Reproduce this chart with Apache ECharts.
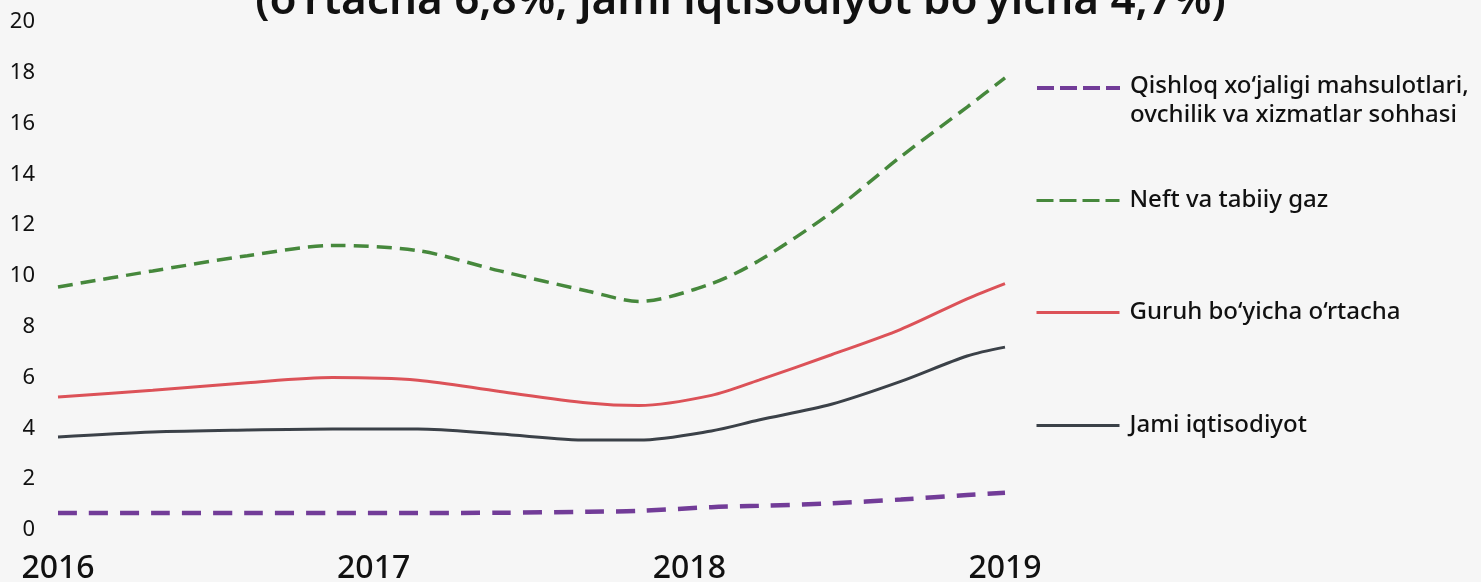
<!DOCTYPE html>
<html>
<head>
<meta charset="utf-8">
<script src="https://cdn.jsdelivr.net/npm/echarts@6/dist/echarts.min.js"></script>
<style>
html,body{margin:0;padding:0;background:#f6f6f6;}
#chart{width:1481px;height:582px;}
</style>
</head>
<body>
<div id="chart"></div>
<script>
// Time positions (in years) at which values were read
const periods = [2016.00, 2016.30, 2016.60, 2016.87, 2017.14, 2017.40, 2017.68, 2017.84, 2018.07, 2018.22, 2018.45, 2018.67, 2018.88, 2019.00];
const xTicks = [2016, 2017, 2018, 2019];
const yTicks = [0, 2, 4, 6, 8, 10, 12, 14, 16, 18, 20];

const seriesNames = [
  "Qishloq xo‘jaligi mahsulotlari,\novchilik va xizmatlar sohhasi",
  "Neft va tabiiy gaz",
  "Guruh bo‘yicha o‘rtacha",
  "Jami iqtisodiyot"
];
const agriculture = [0.67, 0.67, 0.67, 0.67, 0.67, 0.68, 0.72, 0.75, 0.90, 0.95, 1.05, 1.20, 1.38, 1.47];
const oilGas      = [9.57, 10.2, 10.8, 11.2, 11.0, 10.2, 9.4, 9.0, 9.7, 10.6, 12.5, 14.7, 16.65, 17.8];
const groupAvg    = [5.24, 5.5, 5.8, 6.0, 5.9, 5.45, 5.0, 4.9, 5.3, 5.9, 6.9, 7.9, 9.1, 9.7];
const economy     = [3.66, 3.86, 3.94, 3.98, 3.98, 3.78, 3.54, 3.54, 3.9, 4.33, 4.95, 5.85, 6.85, 7.2];

const titleText = "(o‘rtacha 6,8%, jami iqtisodiyot bo‘yicha 4,7%)";

const colors = ["#723c98", "#46883c", "#dc5258", "#3b4148"];
const FONT = "Noto Sans";

function pairs(vals){ return periods.map((p,i)=>[p, vals[i]]); }

const chart = echarts.init(document.getElementById('chart'));

const lineDefs = [
  {data: agriculture, type: [19, 12], width: 4.5, legendType: [17, 6], legendTop: 59},
  {data: oilGas, type: [15, 8], width: 3.5, legendType: [17, 6], legendTop: 186},
  {data: groupAvg, type: 'solid', width: 3, legendType: 'solid', legendTop: 298},
  {data: economy, type: 'solid', width: 3, legendType: 'solid', legendTop: 411}
];

const series = lineDefs.map((d, i) => ({
  name: seriesNames[i],
  type: 'line',
  data: pairs(d.data),
  smooth: 0.3,
  symbol: 'none',
  color: colors[i],
  lineStyle: {color: colors[i], width: d.width, type: d.type},
  z: 4 - i
}));

const legends = lineDefs.map((d, i) => {
  const lg = {
    data: [seriesNames[i]],
    left: 1035,
    top: d.legendTop,
    padding: 0,
    orient: 'vertical',
    itemWidth: 83,
    itemHeight: 20,
    selectedMode: false,
    itemStyle: {opacity: 0},
    lineStyle: {type: d.legendType, width: i === 0 ? 4 : 3},
    textStyle: {
      fontFamily: FONT, fontSize: 24, fontWeight: 500, color: '#111',
      lineHeight: 29,
      padding: [0, 0, 0, 5]
    }
  };
  if (i === 0) {
    lg.formatter = name => {
      const parts = name.split('\n');
      return '{l1|' + parts[0] + '}\n{l2|' + parts[1] + '}';
    };
    lg.textStyle.rich = {
      l1: {fontFamily: FONT, fontSize: 24, fontWeight: 500, color: '#111', lineHeight: 54},
      l2: {fontFamily: FONT, fontSize: 24, fontWeight: 500, color: '#111', lineHeight: 4}
    };
  }
  return lg;
});

chart.setOption({
  backgroundColor: '#f6f6f6',
  animation: false,
  title: {
    text: titleText,
    left: 'center',
    top: -26,
    textStyle: {fontFamily: FONT, fontSize: 44, fontWeight: 600, color: '#111'}
  },
  legend: legends,
  grid: {left: 58, right: 476, top: 22, bottom: 52, containLabel: false, outerBoundsMode: 'none'},
  xAxis: {
    type: 'value',
    min: xTicks[0],
    max: xTicks[xTicks.length - 1],
    interval: 1,
    axisLine: {show: false},
    axisTick: {show: false},
    splitLine: {show: false},
    axisLabel: {
      margin: 23,
      fontFamily: FONT, fontSize: 32, fontWeight: 500, color: '#111',
      formatter: v => xTicks.includes(v) ? String(v) : ''
    }
  },
  yAxis: {
    type: 'value',
    min: yTicks[0],
    max: yTicks[yTicks.length - 1],
    interval: 2,
    axisLine: {show: false},
    axisTick: {show: false},
    splitLine: {show: false},
    axisLabel: {
      margin: 23,
      fontFamily: FONT, fontSize: 22, color: '#111'
    }
  },
  series: series
});
</script>
</body>
</html>
